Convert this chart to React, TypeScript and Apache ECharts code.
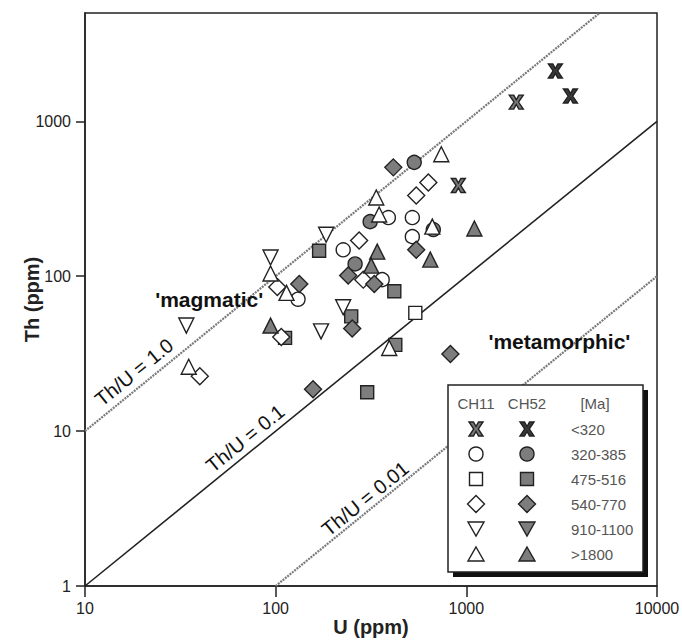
import React, { useEffect, useRef } from 'react';
import * as echarts from 'echarts';

// ---------- data ----------
const ageGroups = ['<320', '320-385', '475-516', '540-770', '910-1100', '>1800'];
const sampleNames = ['CH11', 'CH52'];
const xTicks = [10, 100, 1000, 10000];
const yTicks = [1, 10, 100, 1000];

// [U (ppm), Th (ppm)]
const lt320CH11 = [[1828, 1330], [908, 385]];
const lt320CH52 = [[2931, 2113], [3516, 1455]];
const c320CH11 = [[390, 239], [521, 239], [521, 180], [226, 148], [362, 95], [131, 71]];
const c320CH52 = [[533, 543], [313, 225], [261, 120], [671, 200]];
const s475CH11 = [[540, 58]];
const s475CH52 = [[169, 146], [249, 55], [419, 80], [112, 40], [424, 36], [302, 17.8]];
const d540CH11 = [[632, 403], [546, 332], [274, 170], [288, 95], [102, 85], [107, 40.5], [40, 22.6]];
const d540CH52 = [[414, 504], [546, 148], [240, 101], [133, 89], [329, 89], [252, 46], [825, 31.4], [157, 18.6]];
const t910CH11 = [[94, 132], [184, 185], [226, 63], [173, 44], [34, 48]];
const t910CH52: number[][] = [];
const t1800CH11 = [[739, 612], [337, 322], [349, 250], [663, 209], [394, 34.4], [94, 104], [114, 78], [35, 26]];
const t1800CH52 = [[1102, 203], [341, 144], [317, 117], [647, 128], [94, 48]];

// Th/U reference lines
const thU1Line = [[10, 10], [5000, 5000]];
const thU01Line = [[10, 1], [10000, 1000]];
const thU001Line = [[100, 1], [10000, 100]];

// ---------- styles ----------
const INK = '#222';
const GRAY = '#7d7d7d';
const WHITE = '#ffffff';
const FONT = 'Liberation Sans, Arial, sans-serif';
const XPATH = 'M0,0L3.2,0L5,3.3L6.8,0L10,0L6.6,5L10,10L6.8,10L5,6.7L3.2,10L0,10L3.4,5Z';

echarts.graphic.registerShape('xmark', echarts.graphic.extendPath(XPATH, {}) as any);

type Kind = 'x' | 'circle' | 'square' | 'diamond' | 'down' | 'up';

const symbolFor: Record<Kind, { symbol: string; size: number; rotate?: number }> = {
  x: { symbol: 'path://' + XPATH, size: 14 },
  circle: { symbol: 'circle', size: 14 },
  square: { symbol: 'rect', size: 13 },
  diamond: { symbol: 'diamond', size: 17 },
  down: { symbol: 'triangle', size: 15, rotate: 180 },
  up: { symbol: 'triangle', size: 15 },
};

function scatter(name: string, data: number[][], kind: Kind, filled: boolean) {
  const s = symbolFor[kind];
  let fill = filled ? GRAY : WHITE;
  if (kind === 'x') fill = filled ? '#3a3a3a' : '#777';
  return {
    type: 'scatter',
    name,
    data,
    symbol: s.symbol,
    symbolSize: s.size,
    symbolRotate: s.rotate || 0,
    itemStyle: { color: fill, borderColor: INK, borderWidth: 1.4, opacity: 1 },
    z: 5,
    silent: true,
  };
}

function refLine(data: number[][], solid: boolean) {
  return {
    type: 'line',
    data,
    showSymbol: false,
    symbol: 'none',
    silent: true,
    z: 1,
    lineStyle: solid
      ? { color: INK, width: 1.6, type: 'solid' }
      : { color: '#7a7a7a', width: 2.2, type: [2, 1] },
  };
}

function legendSymbol(kind: Kind, cx: number, cy: number, filled: boolean): any {
  const fill = kind === 'x' ? (filled ? '#3a3a3a' : '#777') : filled ? GRAY : WHITE;
  const style = { fill, stroke: INK, lineWidth: 1.4 };
  switch (kind) {
    case 'x':
      return { type: 'xmark', x: cx - 7, y: cy - 7, scaleX: 1.4, scaleY: 1.4, style: { ...style, lineWidth: 1 }, z: 102 };
    case 'circle':
      return { type: 'circle', shape: { cx, cy, r: 7 }, style, z: 102 };
    case 'square':
      return { type: 'rect', shape: { x: cx - 6.5, y: cy - 6.5, width: 13, height: 13 }, style, z: 102 };
    case 'diamond':
      return { type: 'polygon', shape: { points: [[cx, cy - 8.5], [cx + 8.5, cy], [cx, cy + 8.5], [cx - 8.5, cy]] }, style, z: 102 };
    case 'down':
      return { type: 'polygon', shape: { points: [[cx - 8, cy - 7], [cx + 8, cy - 7], [cx, cy + 7]] }, style, z: 102 };
    default:
      return { type: 'polygon', shape: { points: [[cx, cy - 7], [cx + 8, cy + 7], [cx - 8, cy + 7]] }, style, z: 102 };
  }
}

const kinds: Kind[] = ['x', 'circle', 'square', 'diamond', 'down', 'up'];

function buildLegend(): any[] {
  const left = 448, top = 385, w = 195, h = 187;
  const col1 = 476, col2 = 527, colText = 571, headerY = 403, rowY0 = 429, rowStep = 25;
  const els: any[] = [
    { type: 'rect', shape: { x: left + 5, y: top + 5, width: w, height: h }, style: { fill: '#111' }, z: 100 },
    { type: 'rect', shape: { x: left, y: top, width: w, height: h }, style: { fill: WHITE, stroke: INK, lineWidth: 1.5 }, z: 101 },
  ];
  const headTxt = { fontSize: 15, fontFamily: FONT, fill: '#555', align: 'center', verticalAlign: 'middle' };
  els.push({ type: 'text', x: col1, y: headerY, style: { ...headTxt, text: sampleNames[0] }, z: 102 });
  els.push({ type: 'text', x: col2, y: headerY, style: { ...headTxt, text: sampleNames[1] }, z: 102 });
  els.push({ type: 'text', x: 595, y: headerY, style: { ...headTxt, text: '[Ma]' }, z: 102 });
  kinds.forEach((k, i) => {
    const cy = rowY0 + i * rowStep;
    els.push(legendSymbol(k, col1, cy, false));
    els.push(legendSymbol(k, col2, cy, true));
    els.push({
      type: 'text', x: colText, y: cy,
      style: { text: ageGroups[i], fontSize: 15, fontFamily: FONT, fill: '#555', align: 'left', verticalAlign: 'middle' },
      z: 102,
    });
  });
  return els;
}

const annoLabel = (text: string, rotate: number, bold: boolean) => ({
  show: true,
  formatter: text,
  position: 'inside',
  rotate,
  fontSize: bold ? 21 : 20,
  fontWeight: bold ? 'bold' : 'normal',
  fontFamily: FONT,
  color: '#111',
  textBorderWidth: 0,
  textBorderColor: 'transparent',
  opacity: 1,
});

export default function App() {
  const ref = useRef<HTMLDivElement>(null);
  useEffect(() => {
    document.body.style.margin = '0';
    const chart = echarts.init(ref.current!, null, { renderer: 'svg' });
    const axisCommon = {
      type: 'log',
      logBase: 10,
      splitLine: { show: false },
      minorTick: { show: false },
      axisLine: { show: true, onZero: false, lineStyle: { color: INK, width: 1.5 } },
      nameLocation: 'middle',
      nameMoveOverlap: false,
      nameTextStyle: { fontSize: 20, fontWeight: 'bold', color: INK, fontFamily: FONT },
    };
    const option: any = {
      animation: false,
      backgroundColor: WHITE,
      grid: {
        left: 85, right: 25, top: 13, bottom: 55,
        containLabel: false, outerBoundsMode: 'none',
        show: true, borderColor: INK, borderWidth: 1.5,
      },
      xAxis: {
        ...axisCommon,
        min: 10,
        max: 10000,
        name: 'U (ppm)',
        nameGap: 31,
        axisTick: { show: true, length: 11, customValues: xTicks, lineStyle: { color: INK, width: 1.5 } },
        axisLabel: { customValues: xTicks, fontSize: 16, color: INK, fontFamily: FONT, margin: 14, formatter: (v: number) => String(Math.round(v)) },
      },
      yAxis: {
        ...axisCommon,
        min: 1,
        max: 5000,
        name: 'Th (ppm)',
        nameGap: 43,
        axisTick: { show: true, length: 9, customValues: yTicks, lineStyle: { color: INK, width: 1.5 } },
        axisLabel: { customValues: yTicks, fontSize: 16, color: INK, fontFamily: FONT, margin: 14, formatter: (v: number) => String(Math.round(v)) },
      },
      series: [
        refLine(thU1Line, false),
        refLine(thU01Line, true),
        refLine(thU001Line, false),
        {
          type: 'scatter',
          silent: true,
          symbolSize: 0,
          itemStyle: { color: 'transparent', opacity: 1 },
          z: 4,
          data: [
            { value: [18.1, 24.0], label: annoLabel('Th/U = 1.0', 39, false) },
            { value: [69.2, 8.97], label: annoLabel('Th/U = 0.1', 39, false) },
            { value: [295, 3.66], label: annoLabel('Th/U = 0.01', 39, false) },
            { value: [44.8, 70.3], label: annoLabel("'magmatic'", 0, true) },
            { value: [3076, 37.6], label: annoLabel("'metamorphic'", 0, true) },
          ],
        },
        scatter('CH11 <320', lt320CH11, 'x', false),
        scatter('CH52 <320', lt320CH52, 'x', true),
        scatter('CH11 320-385', c320CH11, 'circle', false),
        scatter('CH52 320-385', c320CH52, 'circle', true),
        scatter('CH11 475-516', s475CH11, 'square', false),
        scatter('CH52 475-516', s475CH52, 'square', true),
        scatter('CH11 540-770', d540CH11, 'diamond', false),
        scatter('CH52 540-770', d540CH52, 'diamond', true),
        scatter('CH11 910-1100', t910CH11, 'down', false),
        scatter('CH52 910-1100', t910CH52, 'down', true),
        scatter('CH11 >1800', t1800CH11, 'up', false),
        scatter('CH52 >1800', t1800CH52, 'up', true),
      ],
      graphic: buildLegend(),
    };
    chart.setOption(option);
    return () => chart.dispose();
  }, []);
  return <div ref={ref} style={{ width: 682, height: 641, position: 'absolute', left: 0, top: 0 }} />;
}
